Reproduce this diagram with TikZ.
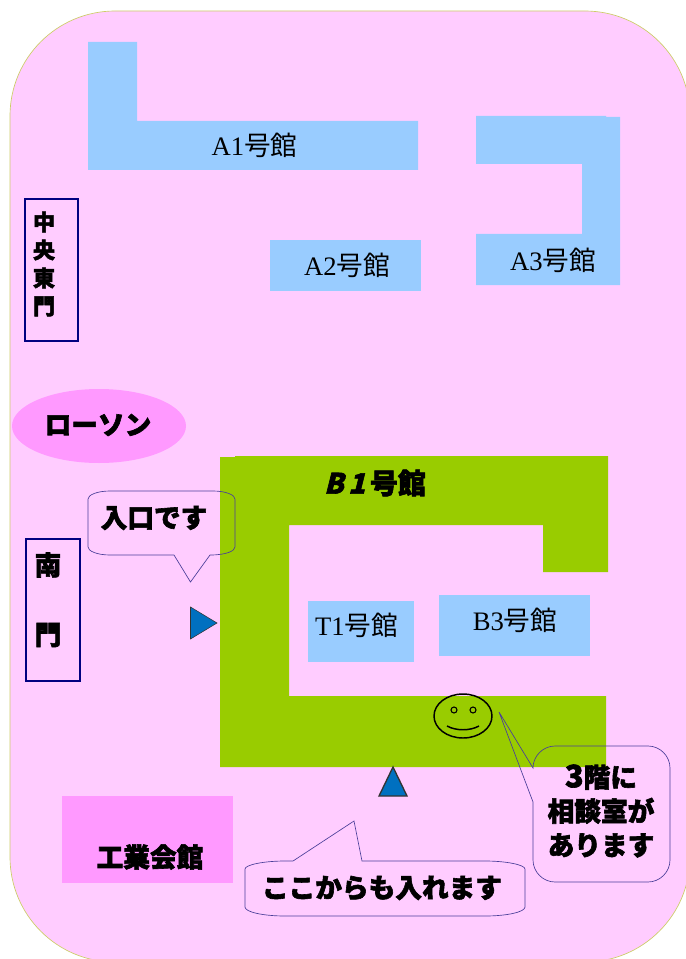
\documentclass[tikz,border=0pt]{standalone}
\usepackage{fontspec}
\setmainfont{Liberation Serif}
\newfontfamily\cjkfont{Noto Sans CJK JP}
\newfontfamily\popfont{Noto Sans CJK JP}[BoldFeatures={FakeBold=2.2}]
\newfontfamily\popslant{Noto Sans CJK JP}[BoldFeatures={FakeBold=2.2,FakeSlant=0.25}]
\usepackage{xcolor}
\definecolor{campus}{HTML}{FFCCFF}
\definecolor{wing}{HTML}{99CCFF}
\definecolor{moss}{HTML}{99CC00}
\definecolor{shop}{HTML}{FF99FF}
\definecolor{arrowblue}{HTML}{0070C0}
\definecolor{gate}{HTML}{000080}
\definecolor{bubble}{HTML}{4A3F99}
\definecolor{rim}{HTML}{CCCC66}
\tikzset{
  roomA/.style  = {fill=wing},
  roomB/.style  = {fill=moss},
  label/.style  = {font=\fontsize{20}{24}\selectfont, inner sep=0pt},
  pop/.style    = {font=\fontsize{20}{25.5}\popfont\bfseries, inner sep=0pt, align=center},
  gatebox/.style = {draw=gate, line width=1.5pt, fill=campus},
  callout/.style = {draw=bubble, line width=0.5pt},
  entrance/.style = {fill=arrowblue, draw=black!80}
}
\begin{document}
\begin{tikzpicture}[x=0.75pt, y=-0.75pt]
\useasboundingbox (0,0) rectangle (685,959);

% ground
\draw[fill=campus, draw=rim, line width=0.5pt, rounded corners=78.75pt]
  (10,11) rectangle (690,962);

% the A buildings
\fill[roomA] (88,42) -- (137,42) -- (137,121) -- (418,121) -- (418,170) -- (88,170) -- cycle;
\fill[roomA] (270,240) rectangle (421,291);
\fill[roomA] (476,116) -- (606,116) -- (606,117) -- (620,117) -- (620,285) -- (476,285)
  -- (476,234) -- (582,234) -- (582,164) -- (476,164) -- cycle;
\node[label] (a1) at (254.5,145) {A1{\cjkfont 号館}};
\node[label] (a2) at (347,265) {A2{\cjkfont 号館}};
\node[label] (a3) at (553,260) {A3{\cjkfont 号館}};

% the B building and what stands inside it
\fill[roomB] (220,457) -- (235,457) -- (235,456) -- (608,456) -- (608,572) -- (543,572)
  -- (543,525) -- (289,525) -- (289,696) -- (606,696) -- (606,767) -- (220,767) -- cycle;
\fill[roomA] (308,601) rectangle (414,662);
\fill[roomA] (439,595) rectangle (590,656);
\node[label] (t1) at (356.5,625) {T1{\cjkfont 号館}};
\node[label] (b3) at (515,620) {B3{\cjkfont 号館}};
\node[inner sep=0pt, font=\fontsize{21}{24}\popfont\bfseries] (b1) at (375,483)
  {{\popslant\bfseries B\,1}\,号館};

% gates
\draw[gatebox] (25,199) rectangle (78,341);
\node[pop, font=\fontsize{16.5}{21}\popfont\bfseries] (east) at (44,264) {中\\央\\東\\門};
\draw[gatebox] (26,539) rectangle (80,681);
\node[pop, font=\fontsize{20}{20}\popfont\bfseries] (southa) at (48,565) {南};
\node[pop, font=\fontsize{20}{20}\popfont\bfseries] (southb) at (48,635) {門};

% neighbours
\fill[shop] (99,426) ellipse [x radius=87, y radius=37];
\node[pop] (lawson) at (98,425) {ローソン};
\fill[shop] (62,796) rectangle (233,883);
\node[pop] (hall) at (150,857) {工業会館};

% entrances
\draw[entrance, line width=0.4pt] (190.5,607) -- (217,623) -- (190.5,639) -- cycle;
\draw[entrance, line width=1pt] (393,767) -- (407,796) -- (379,796) -- cycle;

% smiley
\draw[line width=1.1pt] (463,716) ellipse [x radius=29, y radius=22];
\draw[line width=0.8pt] (454,710) circle (3);
\draw[line width=0.8pt] (473,710) circle (3);
\draw[line width=1.1pt] (447,726) .. controls (456,731) and (470,731) .. (479,726);

% speech bubbles
\draw[callout] (110,491) -- (213,491) .. controls (226,491) and (235,495) .. (235,499)
  -- (235,547) .. controls (235,551) and (226,555) .. (210,555)
  -- (190.5,582) -- (174,555) -- (110,555) .. controls (97,555) and (88,551) .. (88,547)
  -- (88,499) .. controls (88,495) and (97,491) .. (110,491) -- cycle;
\node[pop] (in1) at (154,518) {入口です};

\draw[callout] (293,861) -- (354,821) -- (362,861) -- (485,861)
  .. controls (507,861) and (525,865) .. (525,869) -- (525,907)
  .. controls (525,912) and (507,916) .. (485,916) -- (285,916)
  .. controls (263,916) and (245,912) .. (245,907) -- (245,869)
  .. controls (245,865) and (263,861) .. (285,861) -- cycle;
\node[pop] (in2) at (382,888) {ここからも入れます};

\draw[callout, rounded corners=0pt] (499,712) -- (533,768)
  .. controls (533,756) and (543,746) .. (555,746) -- (648,746)
  .. controls (660,746) and (670,756) .. (670,768) -- (670,860)
  .. controls (670,872) and (660,882) .. (648,882) -- (555,882)
  .. controls (543,882) and (533,872) .. (533,860) -- (533,802) -- cycle;
\node[pop] (room) at (601,811) {{\fontsize{23}{25.5}\selectfont 3}階に\\相談室が\\あります};

\end{tikzpicture}
\end{document}
